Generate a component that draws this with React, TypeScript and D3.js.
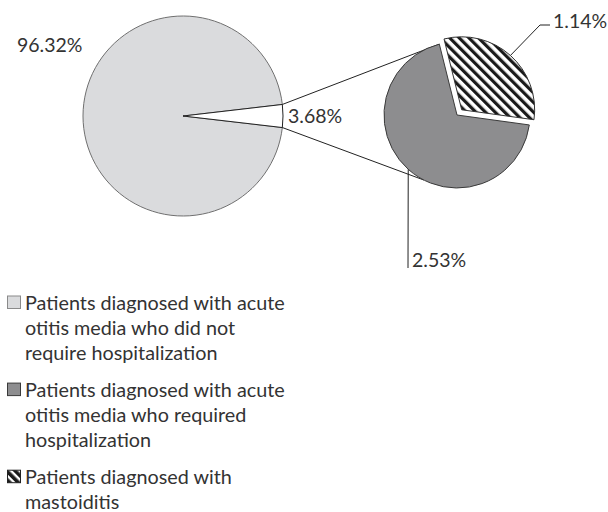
import React from "react";
import * as d3 from "d3";

// Primary pie: share of all patients
const mainLabels = ["96.32%", "3.68%"];
const mainValues = [96.32, 3.68];

// Secondary pie: breakdown of the 3.68% slice
const subLabels = ["1.14%", "2.53%"];
const subValues = [1.14, 2.53];

// Legend entries (pre-wrapped lines)
const legendLines = [
  ["Patients diagnosed with acute", "otitis media who did not", "require hospitalization"],
  ["Patients diagnosed with acute", "otitis media who required", "hospitalization"],
  ["Patients diagnosed with", "mastoiditis"],
];

const W = 608;
const H = 512;
const FONT = "Lato, 'Open Sans', sans-serif";
const TEXT = "#333333";

const LIGHT = "#dadbdd";
const MID = "#8d8d8f";

const big = { cx: 183, cy: 116, r: 100 };
const small = { cx: 457, cy: 115, r: 73, explode: 7 };
const deg = Math.PI / 180;

function pointAt(c: { cx: number; cy: number }, r: number, a: number) {
  return [c.cx + r * Math.sin(a), c.cy - r * Math.cos(a)] as [number, number];
}

export default function App() {
  const total = d3.sum(mainValues);
  const split = mainValues[1] / total;
  // rotate so the split-off slice is centred on the right-hand side
  const a0 = Math.PI / 2 + split * Math.PI;
  const bigArcs = d3
    .pie<number>()
    .sort(null)
    .value((d) => d)
    .startAngle(a0)
    .endAngle(a0 + 2 * Math.PI)(mainValues);

  const subStart = -14 * deg;
  const subArcs = d3
    .pie<number>()
    .sort(null)
    .value((d) => d)
    .startAngle(subStart)
    .endAngle(subStart + 2 * Math.PI)(subValues);

  const bigArc = d3.arc<d3.PieArcDatum<number>>().innerRadius(0).outerRadius(big.r);
  const smallArc = d3.arc<d3.PieArcDatum<number>>().innerRadius(0).outerRadius(small.r);

  const wedge = bigArcs[1];
  const upperStart = pointAt(big, big.r, wedge.startAngle);
  const lowerStart = pointAt(big, big.r, wedge.endAngle);
  const upperEnd = pointAt(small, small.r, subArcs[1].endAngle);
  const lowerEnd = pointAt(small, small.r, 207 * deg);

  const hatch = subArcs[0];
  const hMid = (hatch.startAngle + hatch.endAngle) / 2;
  const hdx = Math.sin(hMid) * small.explode;
  const hdy = -Math.cos(hMid) * small.explode;

  const gray = subArcs[1];
  const gMid = (gray.startAngle + gray.endAngle) / 2;

  // leader for 1.14%
  const hLeadStart = pointAt({ cx: small.cx + hdx, cy: small.cy + hdy }, small.r, hMid);
  const hKnee: [number, number] = [540, 25];
  const hEnd: [number, number] = [550, 25];
  // leader for 2.53%
  const gLeadStart = pointAt(small, small.r, gMid);
  const gEnd: [number, number] = [408, 268];

  const legendTop = 309.5;
  const lineH = 25.3;
  const itemGap = 36.5;
  let y = legendTop;
  const legendRows = legendLines.map((lines, i) => {
    const base = y;
    y = base + (lines.length - 1) * lineH + itemGap;
    return { lines, base, i };
  });
  const swatchFill = [LIGHT, MID, "url(#hatchSwatch)"];
  const swatchStroke = ["#8a8a8a", "#3a3a3a", "#222"];

  return (
    <div style={{ position: "fixed", left: 0, top: 0 }}>
      <svg width={W} height={H} style={{ display: "block", background: "#fff" }}>
        <defs>
          <pattern id="hatch" patternUnits="userSpaceOnUse" width={6.8} height={6.8} patternTransform="rotate(-45)">
            <rect width={6.8} height={6.8} fill="#fff" />
            <rect width={3.2} height={6.8} fill="#1a1a1a" />
          </pattern>
          <pattern id="hatchSwatch" patternUnits="userSpaceOnUse" width={6} height={6} patternTransform="rotate(-45)">
            <rect width={6} height={6} fill="#fff" />
            <rect width={3.6} height={6} fill="#1a1a1a" />
          </pattern>
        </defs>

        {/* primary pie */}
        <g transform={`translate(${big.cx},${big.cy})`}>
          <path d={bigArc(bigArcs[0]) || ""} fill={LIGHT} stroke="#707070" strokeWidth={1} />
          <path d={bigArc(bigArcs[1]) || ""} fill="#fff" stroke="#222" strokeWidth={1} />
        </g>

        {/* series lines */}
        <line x1={upperStart[0]} y1={upperStart[1]} x2={upperEnd[0]} y2={upperEnd[1]} stroke="#222" strokeWidth={1} />
        <line x1={lowerStart[0]} y1={lowerStart[1]} x2={lowerEnd[0]} y2={lowerEnd[1]} stroke="#222" strokeWidth={1} />

        {/* secondary pie */}
        <g transform={`translate(${small.cx},${small.cy})`}>
          <path d={smallArc(gray) || ""} fill={MID} stroke="#3a3a3a" strokeWidth={1} />
          <path
            d={smallArc(hatch) || ""}
            transform={`translate(${hdx},${hdy})`}
            fill="url(#hatch)"
            stroke="#333"
            strokeWidth={1}
          />
        </g>

        {/* leader lines */}
        <polyline
          points={[hLeadStart, hKnee, hEnd].map((p) => p.join(",")).join(" ")}
          fill="none"
          stroke="#222"
          strokeWidth={1}
        />
        <line x1={gLeadStart[0]} y1={gLeadStart[1]} x2={gEnd[0]} y2={gEnd[1]} stroke="#222" strokeWidth={1} />

        {/* data labels */}
        <g fontFamily={FONT} fontSize={19.5} fill={TEXT}>
          <text x={big.cx - big.r - 66} y={52}>{mainLabels[0]}</text>
          <text x={big.cx + big.r + 5} y={123}>{mainLabels[1]}</text>
          <text x={hEnd[0] + 3} y={28}>{subLabels[0]}</text>
          <text x={gEnd[0] + 4} y={267}>{subLabels[1]}</text>
        </g>

        {/* legend */}
        <g fontFamily={FONT} fontSize={19.8} fill={TEXT}>
          {legendRows.map(({ lines, base, i }) => (
            <g key={i}>
              <rect x={7.5} y={base - 13.5} width={13} height={12.5} fill={swatchFill[i]} stroke={swatchStroke[i]} strokeWidth={1} />
              {lines.map((ln, j) => (
                <text key={j} x={25} y={base + j * lineH}>{ln}</text>
              ))}
            </g>
          ))}
        </g>
      </svg>
    </div>
  );
}
